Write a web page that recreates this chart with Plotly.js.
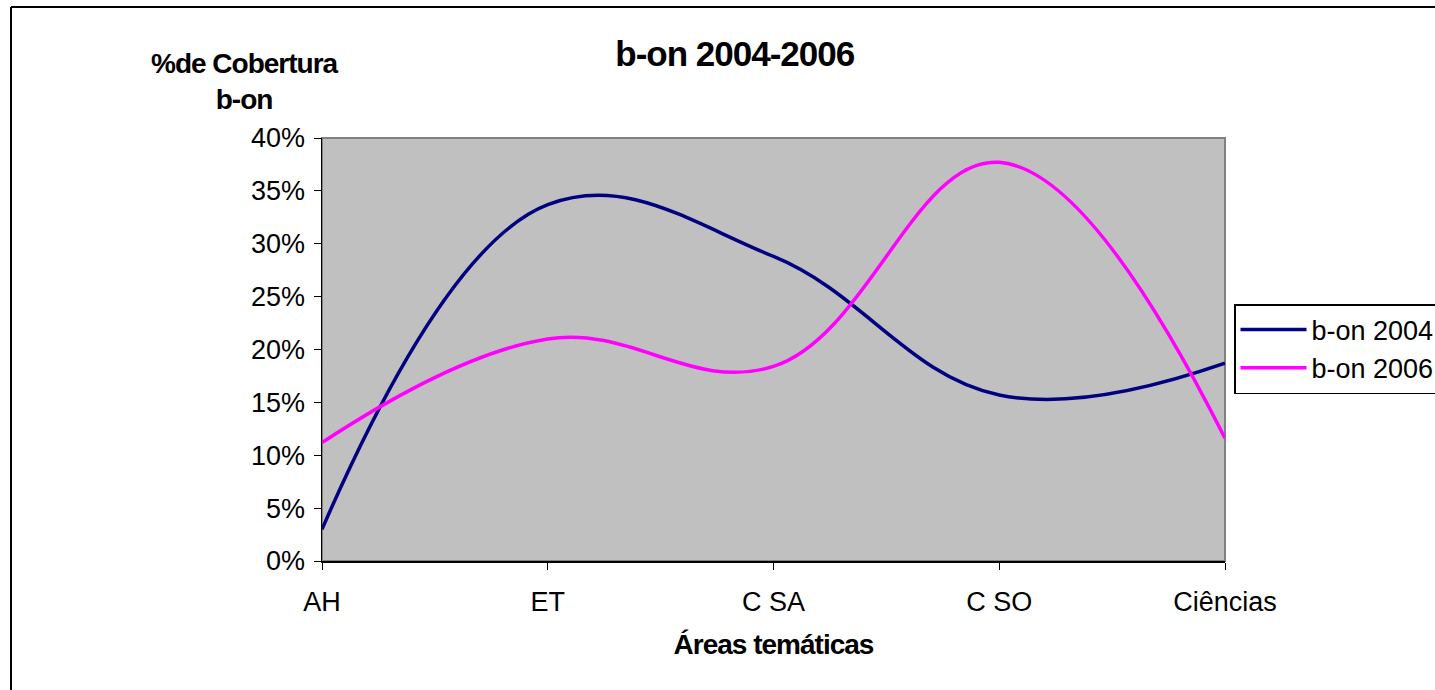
<!DOCTYPE html>
<html>
<head>
<meta charset="utf-8">
<script src="https://cdn.plot.ly/plotly-3.0.1.min.js"></script>
<style>
html, body { margin: 0; padding: 0; background: #fff; }
#chart { width: 1435px; height: 690px; }
.gtitle, .annotation-text, .xtitle { letter-spacing: -1px; }
</style>
</head>
<body>
<div id="chart"></div>
<script>
const categories = ["AH", "ET", "C SA", "C SO", "Ciências"];
const bon2004 = [0.030, 0.337, 0.288, 0.157, 0.187];
const bon2006 = [0.112, 0.210, 0.184, 0.377, 0.116];
const seriesNames = ["b-on 2004", "b-on 2006"];

const FONT = "Arial, 'Liberation Sans', sans-serif";

const traces = [
  {
    x: categories, y: bon2004, name: seriesNames[0], type: "scatter", mode: "lines",
    line: { color: "#000080", width: 3.5, shape: "spline", smoothing: 1.15 }
  },
  {
    x: categories, y: bon2006, name: seriesNames[1], type: "scatter", mode: "lines",
    line: { color: "#ff00ff", width: 3.5, shape: "spline", smoothing: 1.15 }
  }
];

const layout = {
  width: 1435, height: 690,
  margin: { l: 322, r: 210, t: 138, b: 129, autoexpand: false },
  paper_bgcolor: "#ffffff",
  plot_bgcolor: "#c0c0c0",
  font: { family: FONT, color: "#000000", size: 27 },
  title: {
    text: "<b>b-on 2004-2006</b>",
    font: { family: FONT, size: 35, color: "#000" },
    x: 0.512, xref: "container", xanchor: "center",
    y: 1 - 54 / 690, yref: "container", yanchor: "middle"
  },
  xaxis: {
    type: "category",
    range: [0, 4],
    showgrid: false, zeroline: false,
    showline: true, linecolor: "#000", linewidth: 1.5,
    ticks: "outside", ticklen: 7, tickcolor: "#000", tickwidth: 1,
    ticklabelstandoff: 9,
    tickfont: { family: FONT, size: 27 },
    title: { text: "<b>Áreas temáticas</b>", font: { family: FONT, size: 28 }, standoff: 18 }
  },
  yaxis: {
    range: [0, 0.4],
    dtick: 0.05, tick0: 0,
    tickformat: ".0%",
    showgrid: false, zeroline: false,
    showline: true, linecolor: "#000", linewidth: 1.5,
    ticks: "outside", ticklen: 7, tickcolor: "#000", tickwidth: 1,
    ticklabelstandoff: 3,
    tickfont: { family: FONT, size: 27 }
  },
  legend: {
    x: (1234 - 322) / 903, xanchor: "left",
    y: (561 - 304) / 423, yanchor: "top",
    bgcolor: "#ffffff", bordercolor: "#000", borderwidth: 1.5,
    font: { family: FONT, size: 27 },
    itemwidth: 66,
    tracegroupgap: 0
  },
  annotations: [
    {
      text: "<b>%de Cobertura</b><br><b>b-on</b>",
      xref: "paper", yref: "paper",
      x: (245 - 322) / 903, y: (561 - 46) / 423,
      xanchor: "center", yanchor: "top",
      showarrow: false, align: "center",
      font: { family: FONT, size: 28 }
    }
  ],
  shapes: [
    { type: "rect", xref: "paper", yref: "paper", x0: 0, x1: 1, y0: 0, y1: 1,
      line: { color: "#808080", width: 2 }, layer: "below" },
    { type: "line", xref: "paper", yref: "paper",
      x0: (11 - 322) / 903, x1: (1440 - 322) / 903,
      y0: (561 - 7) / 423, y1: (561 - 7) / 423,
      line: { color: "#000", width: 2 } },
    { type: "line", xref: "paper", yref: "paper",
      x0: (11 - 322) / 903, x1: (11 - 322) / 903,
      y0: (561 - 7) / 423, y1: (561 - 695) / 423,
      line: { color: "#000", width: 2 } }
  ],
  showlegend: true
};

Plotly.newPlot("chart", traces, layout, { displayModeBar: false, staticPlot: true });
</script>
</body>
</html>
